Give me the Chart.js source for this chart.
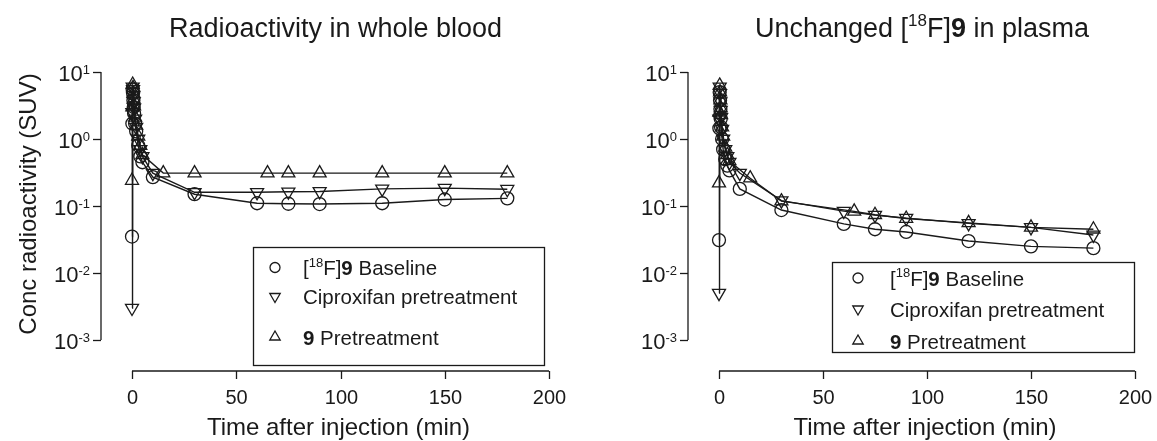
<!DOCTYPE html>
<html>
<head>
<meta charset="utf-8">
<script src="https://cdn.jsdelivr.net/npm/chart.js"></script>
<style>
    body { margin: 0; background: #fff; }
    #wrap { position: relative; width: 1157px; height: 441px; }
    canvas { position: absolute; top: 0; }
</style>
</head>
<body>
<div id="wrap">
    <canvas id="bloodChart" width="580" height="441" style="left:0px"></canvas>
    <canvas id="plasmaChart" width="577" height="441" style="left:580px"></canvas>
</div>
<script>
// sampling times (min)
const sampleTimes   = [0, 0.17, 0.33, 0.5, 0.67, 0.83, 1, 1.5, 2, 3, 4, 5, 10, 30, 60, 75, 90, 120, 150, 180];
const preTimes      = [0, 0.17, 0.33, 0.5, 0.67, 0.83, 1, 1.5, 2, 3, 4, 5, 15, 30, 65, 75, 90, 120, 150, 180];

// whole blood (SUV)
const bloodBaseline = [0.035, 1.7, 5.5, 4.8, 3.8, 3.0, 2.4, 1.7, 1.3, 0.8, 0.55, 0.45, 0.27, 0.15, 0.11, 0.108, 0.107, 0.11, 0.125, 0.13];
const bloodCipro    = [0.003, 2.5, 6.0, 5.5, 4.5, 3.6, 2.9, 2.0, 1.5, 1.0, 0.7, 0.55, 0.31, 0.16, 0.16, 0.163, 0.165, 0.18, 0.185, 0.178];
const bloodPre      = [0.24, 3.0, 6.5, 5.8, 4.8, 3.9, 3.1, 2.1, 1.6, 1.1, 0.8, 0.58, 0.31, 0.31, 0.31, 0.31, 0.31, 0.31, 0.31, 0.31];

// unchanged parent in plasma (SUV)
const plasmaBaseline = [0.031, 1.45, 5.0, 3.8, 2.8, 2.0, 1.5, 1.0, 0.7, 0.5, 0.4, 0.34, 0.18, 0.087, 0.054, 0.045, 0.041, 0.030, 0.025, 0.0235];
const plasmaCipro    = [0.005, 2.0, 6.0, 4.8, 3.6, 2.7, 2.1, 1.4, 1.0, 0.7, 0.55, 0.45, 0.31, 0.12, 0.084, 0.073, 0.066, 0.055, 0.048, 0.037];
const plasmaPre      = [0.22, 2.5, 6.3, 5.0, 3.8, 2.9, 2.3, 1.5, 1.1, 0.75, 0.58, 0.47, 0.26, 0.118, 0.083, 0.074, 0.065, 0.056, 0.048, 0.045];

const xTicks = [0, 50, 100, 150, 200];
const yTickExps = [1, 0, -1, -2, -3];

const labelBaseline = [["[", ""], ["18", "s"], ["F]", ""], ["9", "b"], [" Baseline", ""]];
const labelCipro    = [["Ciproxifan pretreatment", ""]];
const labelPre      = [["9", "b"], [" Pretreatment", ""]];

const FONT = "'Liberation Sans', Arial, sans-serif";
const INK = "#1a1a1a";

const toPoints = (times, vals) => times.map((t, i) => ({ x: t, y: vals[i] }));

function setFont(ctx, size, bold)
{
    ctx.font = (bold ? "bold " : "") + size + "px " + FONT;
}

// text made of parts: ["text", ""|"b"|"s"]
function drawRich(ctx, parts, x, y, size, align)
{
    const supSize = Math.round(size * 0.64);
    let width = 0;
    parts.forEach(([t, s]) => {
        setFont(ctx, s === "s" ? supSize : size, s === "b");
        width += ctx.measureText(t).width;
    });
    let cx = align === "center" ? x - width / 2 : x;
    ctx.textAlign = "left";
    ctx.textBaseline = "alphabetic";
    parts.forEach(([t, s]) => {
        setFont(ctx, s === "s" ? supSize : size, s === "b");
        ctx.fillText(t, cx, s === "s" ? y - size * 0.4 : y);
        cx += ctx.measureText(t).width;
    });
}

function drawMarker(ctx, style, x, y, r)
{
    ctx.beginPath();
    if (style === "circle") {
        ctx.arc(x, y, r, 0, Math.PI * 2);
    } else {
        const dir = style === "down" ? -1 : 1;
        for (let k = 0; k < 3; k++) {
            const a = k * 2 * Math.PI / 3;
            const px = x + Math.sin(a) * r;
            const py = y - dir * Math.cos(a) * r;
            k === 0 ? ctx.moveTo(px, py) : ctx.lineTo(px, py);
        }
        ctx.closePath();
    }
    ctx.stroke();
}

const prismAxes = {
    id: "prismAxes",
    afterDraw(chart, args, opts)
    {
        const { ctx, chartArea: a, scales: { x, y } } = chart;
        ctx.save();
        ctx.strokeStyle = INK;
        ctx.fillStyle = INK;
        ctx.lineWidth = 1.3;

        // y axis, offset from the plot
        const ax = a.left - 31;
        ctx.beginPath();
        ctx.moveTo(ax, y.getPixelForValue(10));
        ctx.lineTo(ax, y.getPixelForValue(0.001));
        ctx.stroke();
        yTickExps.forEach(e => {
            const py = Math.round(y.getPixelForValue(Math.pow(10, e))) + 0.5;
            ctx.beginPath();
            ctx.moveTo(ax - 8, py);
            ctx.lineTo(ax, py);
            ctx.stroke();
            const exp = String(e);
            setFont(ctx, 13, false);
            const ew = ctx.measureText(exp).width;
            ctx.textAlign = "left";
            ctx.fillText(exp, ax - 11 - ew, py + 1);
            setFont(ctx, 22, false);
            ctx.textAlign = "right";
            ctx.fillText("10", ax - 11 - ew, py + 8.5);
        });

        // x axis, offset below the plot
        const ay = a.bottom + 31;
        ctx.beginPath();
        ctx.moveTo(x.getPixelForValue(0), ay);
        ctx.lineTo(x.getPixelForValue(200), ay);
        ctx.stroke();
        setFont(ctx, 20, false);
        ctx.textAlign = "center";
        xTicks.forEach(t => {
            const px = Math.round(x.getPixelForValue(t)) + 0.5;
            ctx.beginPath();
            ctx.moveTo(px, ay);
            ctx.lineTo(px, ay + 8);
            ctx.stroke();
            ctx.fillText(String(t), px, ay + 33);
        });

        const mid = (a.left + a.right) / 2;
        setFont(ctx, 24, false);
        ctx.fillText("Time after injection (min)", mid - 2, 435);

        drawRich(ctx, opts.title, mid - 5, 37, 27, "center");

        if (opts.yLabel) {
            ctx.save();
            ctx.translate(36, (a.top + a.bottom) / 2 - 2);
            ctx.rotate(-Math.PI / 2);
            setFont(ctx, 24, false);
            ctx.textAlign = "center";
            ctx.fillText(opts.yLabel, 0, 0);
            ctx.restore();
        }

        // legend box
        const L = opts.legend;
        ctx.fillStyle = "#fff";
        ctx.fillRect(L.x, L.y, L.w, L.h);
        ctx.strokeRect(L.x + 0.5, L.y + 0.5, L.w, L.h);
        ctx.fillStyle = INK;
        chart.data.datasets.forEach((ds, i) => {
            const cy = L.rows[i];
            drawMarker(ctx, ds.marker, L.symX, cy, ds.marker === "circle" ? 5 : 6);
            drawRich(ctx, ds.richLabel, L.textX, cy + 7.5, 20.5, "left");
        });
        ctx.restore();
    }
};

function makeDataset(label, richLabel, marker, times, vals)
{
    return {
        label,
        richLabel,
        marker,
        data: toPoints(times, vals),
        borderColor: INK,
        borderWidth: 1.4,
        fill: false,
        tension: 0,
        pointStyle: marker === "circle" ? "circle" : "triangle",
        pointRotation: marker === "down" ? 180 : 0,
        pointRadius: marker === "circle" ? 6.5 : 7.5,
        pointBorderWidth: 1.3,
        pointBorderColor: INK,
        pointBackgroundColor: "rgba(0,0,0,0)"
    };
}

function makeChart(id, datasets, padding, pluginOpts)
{
    return new Chart(document.getElementById(id), {
        type: "line",
        data: { datasets },
        options: {
            responsive: false,
            animation: false,
            clip: false,
            layout: { padding },
            scales: {
                x: { type: "linear", min: 0, max: 200, display: false },
                y: { type: "logarithmic", min: 0.001, max: 10, display: false }
            },
            plugins: {
                legend: { display: false },
                tooltip: { enabled: false },
                prismAxes: pluginOpts
            }
        },
        plugins: [prismAxes]
    });
}

makeChart("bloodChart", [
    makeDataset("[18F]9 Baseline", labelBaseline, "circle", sampleTimes, bloodBaseline),
    makeDataset("Ciproxifan pretreatment", labelCipro, "down", sampleTimes, bloodCipro),
    makeDataset("9 Pretreatment", labelPre, "up", preTimes, bloodPre)
], { left: 132, right: 31, top: 72, bottom: 101 }, {
    title: [["Radioactivity in whole blood", ""]],
    yLabel: "Conc radioactivity (SUV)",
    legend: { x: 253, y: 247, w: 291, h: 118, symX: 275, textX: 303, rows: [267.5, 296.5, 337] }
});

makeChart("plasmaChart", [
    makeDataset("[18F]9 Baseline", labelBaseline, "circle", sampleTimes, plasmaBaseline),
    makeDataset("Ciproxifan pretreatment", labelCipro, "down", sampleTimes, plasmaCipro),
    makeDataset("9 Pretreatment", labelPre, "up", preTimes, plasmaPre)
], { left: 139, right: 22, top: 72, bottom: 101 }, {
    title: [["Unchanged [", ""], ["18", "s"], ["F]", ""], ["9", "b"], [" in plasma", ""]],
    yLabel: null,
    legend: { x: 252, y: 262, w: 302, h: 90, symX: 278, textX: 310, rows: [278, 309, 341] }
});
</script>
</body>
</html>
